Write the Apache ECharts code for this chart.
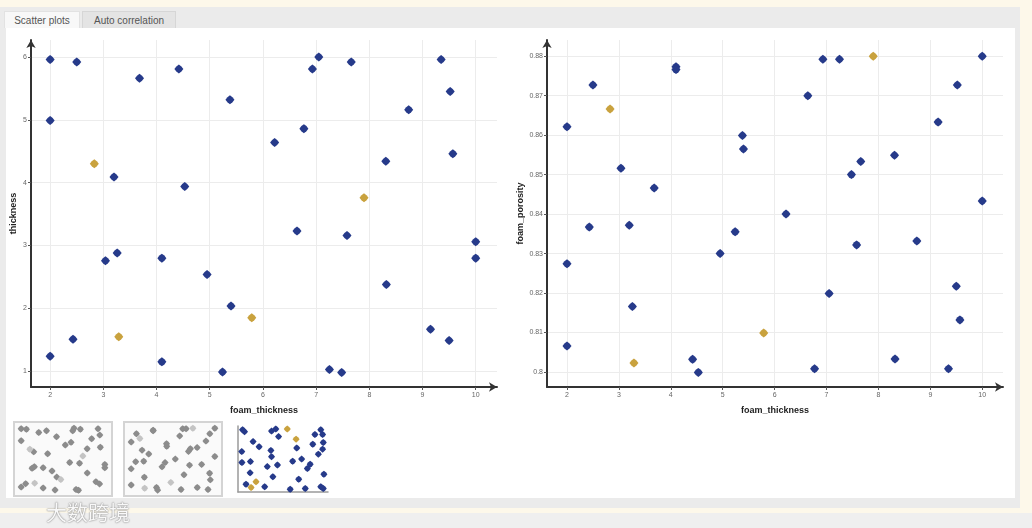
<!DOCTYPE html>
<html>
<head>
<meta charset="utf-8">
<script src="https://cdn.jsdelivr.net/npm/echarts@6/dist/echarts.min.js"></script>
<style>
  html, body { margin:0; padding:0; width:1032px; height:528px; overflow:hidden; background:#fdf8ea; font-family:"Liberation Sans", Arial, sans-serif; }
  .abs { position:absolute; }
  #panel { left:0; top:7px; width:1020px; height:501px; background:#ebebeb; }
  #content { left:6px; top:28px; width:1009px; height:470px; background:#ffffff; }
  #bottom { left:0; top:513px; width:1032px; height:15px; background:#efefef; }
  .tab { top:11px; height:17px; line-height:17px; font-size:10px; color:#555; text-align:center; box-sizing:border-box; }
  #tab1 { left:4px; width:76px; background:#f8f8f8; border:1px solid #e2e2e2; border-bottom:none; }
  #tab2 { left:82px; width:94px; background:#e4e4e4; border:1px solid #d6d6d6; border-bottom:none; }
  .thumb { top:421px; width:100px; height:76px; box-sizing:border-box; border:2px solid #d4d4d4; background:#fafafa; }
  #wm { left:46px; top:496px; font-family:"Noto Sans CJK SC", sans-serif; font-size:21px; color:rgba(255,255,255,0.95); text-shadow:0 0 1px #777, 0 0 2px #999; }
  #chart { left:0; top:0; width:1032px; height:528px; }
</style>
</head>
<body>
<div id="panel" class="abs"></div>
<div id="content" class="abs"></div>
<div id="bottom" class="abs"></div>
<div id="tab1" class="abs tab">Scatter plots</div>
<div id="tab2" class="abs tab">Auto correlation</div>
<div class="abs thumb" style="left:13px"></div>
<div class="abs thumb" style="left:123px"></div>
<div id="chart" class="abs"></div>
<div id="wm" class="abs">大数跨境</div>
<script>
// ---- data (blue = unselected points, gold = selected points) ----
const blueFoamThickness = [2.0, 2.0, 2.0, 2.43, 2.5, 3.04, 3.2, 3.26, 3.68, 4.1, 4.1, 4.42, 4.53, 4.95, 5.24, 5.38, 5.4, 6.22, 6.64, 6.77, 6.93, 7.05, 7.25, 7.48, 7.58, 7.66, 8.31, 8.32, 8.74, 9.15, 9.35, 9.52, 9.5, 9.57, 10.0, 10.0];
const blueThickness     = [5.96, 4.99, 1.24, 1.51, 5.92, 2.76, 4.09, 2.88, 5.66, 2.80, 1.15, 5.81, 3.94, 2.54, 0.99, 5.32, 2.04, 4.64, 3.23, 4.86, 5.81, 6.00, 1.03, 0.98, 3.16, 5.92, 4.34, 2.38, 5.16, 1.67, 5.96, 5.45, 1.49, 4.46, 3.06, 2.80];
const bluePorosity      = [0.8621, 0.8274, 0.8066, 0.8367, 0.8727, 0.8516, 0.8372, 0.8166, 0.8466, 0.8773, 0.8766, 0.8032, 0.7999, 0.8300, 0.8355, 0.8599, 0.8565, 0.8400, 0.8700, 0.8008, 0.8792, 0.8199, 0.8792, 0.8500, 0.8322, 0.8533, 0.8549, 0.8033, 0.8332, 0.8633, 0.8008, 0.8727, 0.8217, 0.8132, 0.8800, 0.8433];
const goldFoamThickness = [2.83, 3.29, 5.79, 7.9];
const goldThickness     = [4.30, 1.55, 1.85, 3.76];
const goldPorosity      = [0.8666, 0.8023, 0.8099, 0.8800];

const xTicks = [2, 3, 4, 5, 6, 7, 8, 9, 10];
const thicknessTicks = [1, 2, 3, 4, 5, 6];
const porosityTicks = [0.80, 0.81, 0.82, 0.83, 0.84, 0.85, 0.86, 0.87, 0.88];

const BLUE = '#263a8a';
const GOLD = '#c9a23e';
const MARK = 'path://M0,-5L2.8,-2.8L5,0L2.8,2.8L0,5L-2.8,2.8L-5,0L-2.8,-2.8Z';

function pairs(a, b) { return a.map((v, i) => [v, b[i]]); }

function mainAxis(grid, min, max, ticks, name, gap, isY) {
  return {
    type: 'value', gridIndex: grid, min: min, max: max,
    name: name, nameLocation: 'middle', nameGap: gap,
    nameTextStyle: { fontWeight: 'bold', fontSize: 9, color: '#222', fontFamily: 'Liberation Sans' },
    axisLine: { show: true, onZero: false, symbol: ['none', 'arrow'], symbolSize: [7, 8], lineStyle: { color: '#333', width: 2 } },
    axisTick: { show: true, length: 3, customValues: ticks, lineStyle: { color: '#555' } },
    axisLabel: { customValues: ticks, fontSize: 7, color: '#666', margin: isY ? 4 : 5, fontFamily: 'Liberation Sans' },
    splitLine: { show: true, lineStyle: { color: '#ececec', width: 1 } }
  };
}
function hiddenAxis(grid, min, max, showLine) {
  return {
    type: 'value', gridIndex: grid, min: min, max: max,
    axisLine: { show: !!showLine, onZero: false, lineStyle: { color: '#9a9a9a', width: 1.5 } },
    axisTick: { show: false }, axisLabel: { show: false }, splitLine: { show: false }
  };
}
function sc(xi, yi, data, color, size) {
  return { type: 'scatter', xAxisIndex: xi, yAxisIndex: yi, data: data, symbol: MARK, symbolSize: size, itemStyle: { color: color, opacity: 1 }, silent: true };
}

const chart = echarts.init(document.getElementById('chart'), null, { renderer: 'canvas' });
chart.setOption({
  animation: false,
  backgroundColor: 'transparent',
  grid: [
    { left: 31, top: 40, width: 466, height: 347 },
    { left: 547, top: 40, width: 456, height: 347 },
    { left: 17, top: 425, width: 92, height: 68 },
    { left: 127, top: 425, width: 92, height: 68 },
    { left: 238, top: 426, width: 90, height: 66 }
  ],
  xAxis: [
    mainAxis(0, 1.64, 10.4, xTicks, 'foam_thickness', 19, false),
    mainAxis(1, 1.615, 10.4, xTicks, 'foam_thickness', 19, false),
    hiddenAxis(2, 1.6, 10.4),
    hiddenAxis(3, 1.6, 10.4),
    hiddenAxis(4, 0.75, 6.25, true)
  ],
  yAxis: [
    mainAxis(0, 0.75, 6.27, thicknessTicks, 'thickness', 13, true),
    mainAxis(1, 0.7962, 0.8841, porosityTicks, 'foam_porosity', 21, true),
    hiddenAxis(2, 0.75, 6.27),
    hiddenAxis(3, 0.7962, 0.8841),
    hiddenAxis(4, 0.7962, 0.8841, true)
  ],
  series: [
    sc(0, 0, pairs(blueFoamThickness, blueThickness), BLUE, 9),
    sc(0, 0, pairs(goldFoamThickness, goldThickness), GOLD, 9),
    sc(1, 1, pairs(blueFoamThickness, bluePorosity), BLUE, 9),
    sc(1, 1, pairs(goldFoamThickness, goldPorosity), GOLD, 9),
    sc(2, 2, pairs(blueFoamThickness, blueThickness), '#8c8c8c', 7),
    sc(2, 2, pairs(goldFoamThickness, goldThickness), '#c4c4c4', 7),
    sc(3, 3, pairs(blueFoamThickness, bluePorosity), '#8c8c8c', 7),
    sc(3, 3, pairs(goldFoamThickness, goldPorosity), '#c4c4c4', 7),
    sc(4, 4, pairs(blueThickness, bluePorosity), BLUE, 7),
    sc(4, 4, pairs(goldThickness, goldPorosity), GOLD, 7)
  ]
});
</script>
</body>
</html>
